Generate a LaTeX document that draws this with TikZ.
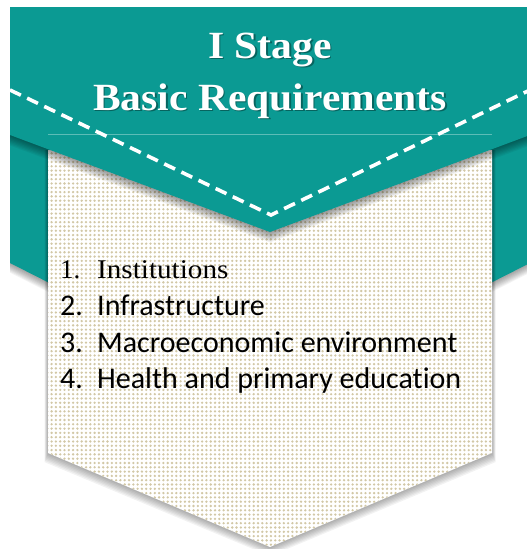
\documentclass[tikz,border=0pt]{standalone}
\usepackage{fontspec}
\setmainfont{Liberation Serif}
\newfontfamily\listfont[Ligatures={NoCommon}]{Carlito}
\usetikzlibrary{patterns.meta,calc}
\definecolor{tealc}{HTML}{0B9A93}
\definecolor{tealline}{HTML}{5CBDB7}
\definecolor{dotc}{HTML}{D2C8A6}
\tikzdeclarepattern{
  name=bdots,
  type=colored,
  bottom left={(-2.15pt,-2.15pt)},
  top right={(2.15pt,2.15pt)},
  tile size={(4.3pt,4.3pt)},
  code={\fill[dotc] (0,0) circle (1.3pt);}
}
\tikzset{
  titletext/.style={font=\bfseries\fontsize{38.5}{40}\selectfont, text=white, inner sep=0pt, anchor=base},
  titleshadow/.style={font=\bfseries\fontsize{38.5}{40}\selectfont, text=black, opacity=0.35, inner sep=0pt, anchor=base},
  numtext/.style={font=\listfont\fontsize{30}{32}\selectfont, inner sep=0pt, anchor=base west},
  itemtext/.style={font=\listfont\fontsize{30}{32}\selectfont, inner sep=0pt, anchor=base west},
  dashline/.style={white, line width=3.6pt, dash pattern=on 12pt off 7pt},
}
\begin{document}
\begin{tikzpicture}[x=1pt,y=-1pt]
\useasboundingbox (0,0) rectangle (527,549);
% coordinates
\coordinate (tl) at (10,7);
\coordinate (tr) at (530,7);
\coordinate (bl) at (10,263);
\coordinate (br) at (530,263);
\coordinate (btip) at (270,395);
% shadow of back chevron
\foreach \k in {1,...,8}{
  \fill[black, opacity=0.05] (tl) -- (tr) -- ($(br)+(0,\k*1.2)$) -- ($(btip)+(0,\k*1.2)$) -- ($(bl)+(0,\k*1.2)$) -- cycle;
}
% back teal chevron
\fill[tealc] (tl) -- (tr) -- (br) -- (btip) -- (bl) -- cycle;
% beige panel shadow
\coordinate (pl) at (48,150);
\coordinate (pr) at (492,150);
\coordinate (pbr) at (492,453);
\coordinate (ptip) at (270,547);
\coordinate (pbl) at (48,453);
\foreach \k in {1,...,7}{
  \fill[black, opacity=0.05] ($(pl)+(-\k*0.5,0)$) -- ($(pr)+(\k*0.5,0)$) -- ($(pbr)+(\k*0.5,\k*1.3)$) -- ($(ptip)+(0,\k*1.3)$) -- ($(pbl)+(-\k*0.5,\k*1.3)$) -- cycle;
}
% beige panel
\fill[white] (pl) -- (pr) -- (pbr) -- (ptip) -- (pbl) -- cycle;
\fill[pattern=bdots] (pl) -- (pr) -- (pbr) -- (ptip) -- (pbl) -- cycle;
% front flap shadow
\coordinate (fl) at (10,135);
\coordinate (fr) at (530,135);
\coordinate (ftip) at (270,232);
\foreach \k in {1,...,8}{
  \fill[black, opacity=0.055] (tl) -- (tr) -- ($(fr)+(0,\k*1.3)$) -- ($(ftip)+(0,\k*1.3)$) -- ($(fl)+(0,\k*1.3)$) -- cycle;
}
% front flap
\fill[tealc] (tl) -- (tr) -- (fr) -- (ftip) -- (fl) -- cycle;
% thin line
\coordinate (ll) at (48,134);
\coordinate (lr) at (492,134);
\draw[tealline, line width=0.7pt] (ll) -- (lr);
% dashed line
\coordinate (dl) at (10,90);
\coordinate (dv) at (271,215);
\coordinate (dr) at (532,89);
\draw[dashline] (dl) -- (dv) -- (dr);
% title
\node[titleshadow] (t1s) at (271.5,59.5) {\scalebox{1.08}[1]{I Stage}};
\node[titletext] (t1) at (270,58) {\scalebox{1.08}[1]{I Stage}};
\node[titleshadow] (t2s) at (271.5,111.5) {\scalebox{1.08}[1]{Basic Requirements}};
\node[titletext] (t2) at (270,110) {\scalebox{1.08}[1]{Basic Requirements}};
% list
\node[font=\fontsize{27}{30}\selectfont, inner sep=0pt, anchor=base west] (n1) at (60,278) {1.};
\node[font=\fontsize{27}{30}\selectfont, inner sep=0pt, anchor=base west] (i1) at (97,278) {\scalebox{1.08}[1]{Institutions}};
\node[numtext] (n2) at (60,315) {2.};
\node[itemtext] (i2) at (97,315) {Infrastructure};
\node[numtext] (n3) at (60,352) {3.};
\node[itemtext] (i3) at (97,352) {Macroeconomic environment};
\node[numtext] (n4) at (60,388) {4.};
\node[itemtext] (i4) at (97,388) {Health and primary education};
\end{tikzpicture}
\end{document}
